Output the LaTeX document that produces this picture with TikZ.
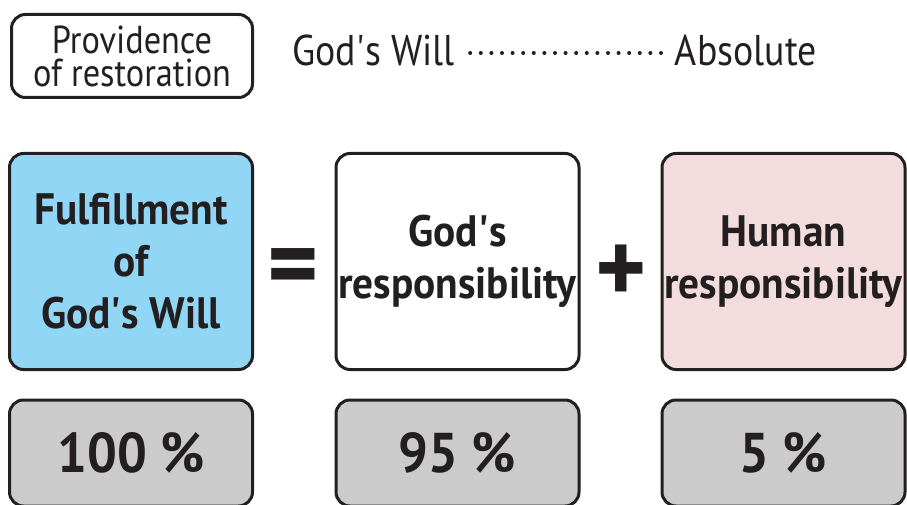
\documentclass[tikz,border=0pt]{standalone}
\usepackage{fontspec}
\setmainfont{PT Sans}[FakeStretch=0.88,BoldFeatures={FakeStretch=0.94}]
\usepackage{tikz}
\usetikzlibrary{positioning}
\definecolor{inkgray}{RGB}{35,31,32}
\definecolor{willblue}{RGB}{146,214,245}
\definecolor{humpink}{RGB}{242,220,222}
\definecolor{pctgray}{RGB}{203,203,203}
\newcommand{\apos}{\textquotesingle}

\begin{document}
\begin{tikzpicture}[x=1pt,y=-1pt,
  box/.style={draw=inkgray,line width=3pt,rounded corners=14pt,align=center,
    text=inkgray,minimum width=243pt,minimum height=216pt,inner sep=0pt},
  pctbox/.style={box,fill=pctgray,minimum height=106pt,
    font=\fontsize{56}{60}\selectfont\bfseries},
  bigtxt/.style={font=\fontsize{44}{52}\selectfont\bfseries},
  midtxt/.style={text=inkgray,font=\fontsize{43}{48}\selectfont},
  sign/.style={text=inkgray,font=\fontsize{104}{104}\selectfont\bfseries,inner sep=0pt},
  dotline/.style={inkgray,line width=4pt,line cap=round,dash pattern=on 0pt off 10.6pt}
]
\useasboundingbox (0,0) rectangle (907,505);

% heading
\node[box,minimum width=241pt,minimum height=83pt,
  font=\fontsize{39}{33}\selectfont] (prov) at (132,56) {Providence\\of restoration};
\node[midtxt,anchor=west,inner sep=0pt] (gwill) at (292,50) {God\apos s Will};
\node[midtxt,anchor=east,inner sep=0pt] (absol) at (817,50) {Absolute};
\draw[dotline] ([xshift=15pt,yshift=-3pt]gwill.east) -- ([xshift=-13pt,yshift=-3pt]absol.west);

% equation row
\node[box,fill=willblue,bigtxt] (fulfil) at (131,261.5) {Fulfillment\\of\\God\apos s Will};
\node[sign] (eq) at (293,274) {=};
\node[box,fill=white,bigtxt] (godr) at (457.5,261.5) {God\apos s\\responsibility};
\node[sign] (plus) at (621,274) {+};
\node[box,fill=humpink,bigtxt] (humr) at (783.5,261.5) {Human\\responsibility};

% percentages
\node[pctbox] (pctall) at (131,453) {100 \%};
\node[pctbox] (pctgod) at (457.5,453) {95 \%};
\node[pctbox] (pcthum) at (783.5,453) {5 \%};
\end{tikzpicture}
\end{document}
